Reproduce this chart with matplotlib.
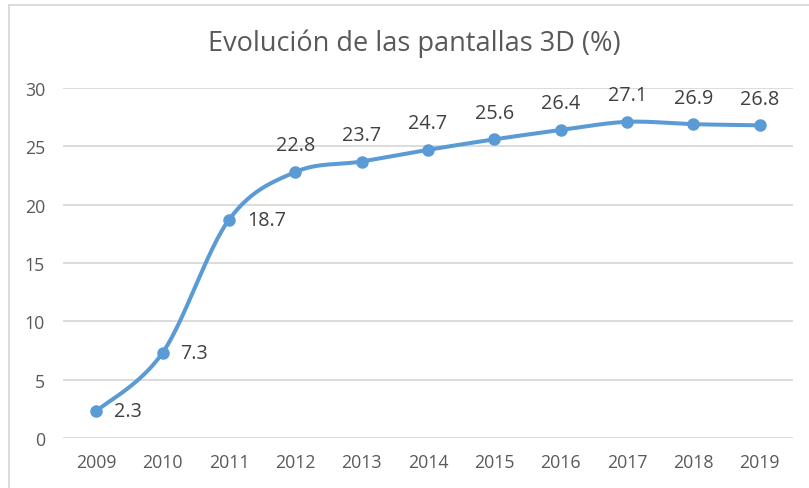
import numpy as np
import matplotlib
matplotlib.use("Agg")
import matplotlib.pyplot as plt
from matplotlib.lines import Line2D

years = ["2009", "2010", "2011", "2012", "2013", "2014", "2015", "2016", "2017", "2018", "2019"]
values = [2.3, 7.3, 18.7, 22.8, 23.7, 24.7, 25.6, 26.4, 27.1, 26.9, 26.8]
label_pos = ["right", "right", "right", "above", "above", "above", "above", "above", "above", "above", "above"]
title = "Evolución de las pantallas 3D (%)"
yticks = [0, 5, 10, 15, 20, 25, 30]

plt.rcParams['font.family'] = ['Open Sans', 'DejaVu Sans']
TXT = "#595959"
BLUE = "#5B9BD5"
GRID = "#D9D9D9"

W, H = 809, 489
fig = plt.figure(figsize=(W / 100, H / 100), dpi=100)
ax = fig.add_axes([63 / W, 1 - 439 / H, (793 - 63) / W, (439 - 89) / H])
x = np.arange(len(years))
ax.set_xlim(-0.5, len(years) - 0.5)
ax.set_ylim(0, 30)
ax.set_yticks(yticks)
ax.set_xticks(x)
ax.set_xticklabels(years)
ax.yaxis.grid(True, color=GRID, linewidth=1.3)
ax.set_axisbelow(True)
for s in ax.spines.values():
    s.set_visible(False)
ax.tick_params(length=0, labelsize=12.8, labelcolor=TXT)
ax.tick_params(axis='y', pad=13)
ax.tick_params(axis='x', pad=11)

# Smooth curve (Excel-like Catmull-Rom Bezier in display space)
pts = ax.transData.transform(np.column_stack([x, values]))
curve = []
n = len(pts)
for i in range(n - 1):
    p0 = pts[i - 1] if i > 0 else pts[i]
    p1 = pts[i]
    p2 = pts[i + 1]
    p3 = pts[i + 2] if i + 2 < n else pts[i + 1]
    c1 = p1 + (p2 - p0) / 6
    c2 = p2 - (p3 - p1) / 6
    t = np.linspace(0, 1, 30)[:, None]
    seg = (1 - t) ** 3 * p1 + 3 * (1 - t) ** 2 * t * c1 + 3 * (1 - t) * t ** 2 * c2 + t ** 3 * p2
    curve.append(seg if i == 0 else seg[1:])
curve = ax.transData.inverted().transform(np.vstack(curve))
ax.plot(curve[:, 0], curve[:, 1], color=BLUE, linewidth=2.9, solid_capstyle='round', zorder=3)
ax.plot(x, values, 'o', color=BLUE, markersize=8, zorder=4)

for xi, v, pos in zip(x, values, label_pos):
    if pos == "right":
        ax.annotate(f"{v}", (xi, v), xytext=(13, 0), textcoords='offset points',
                    ha='left', va='center', fontsize=14.2, color="#404040")
    else:
        ax.annotate(f"{v}", (xi, v), xytext=(0, 12), textcoords='offset points',
                    ha='center', va='bottom', fontsize=14.2, color="#404040")

fig.text(414 / W, 1 - 44 / H, title, ha='center', va='center', fontsize=19.5, color=TXT)

# chart border (left and top edges visible)
fig.add_artist(Line2D([9 / W, 9 / W], [0, 1 - 6 / H], transform=fig.transFigure, color=GRID, lw=1.3))
fig.add_artist(Line2D([9 / W, 1], [1 - 6 / H, 1 - 6 / H], transform=fig.transFigure, color=GRID, lw=1.3))

fig.savefig("out.png", dpi=100, facecolor="white")
